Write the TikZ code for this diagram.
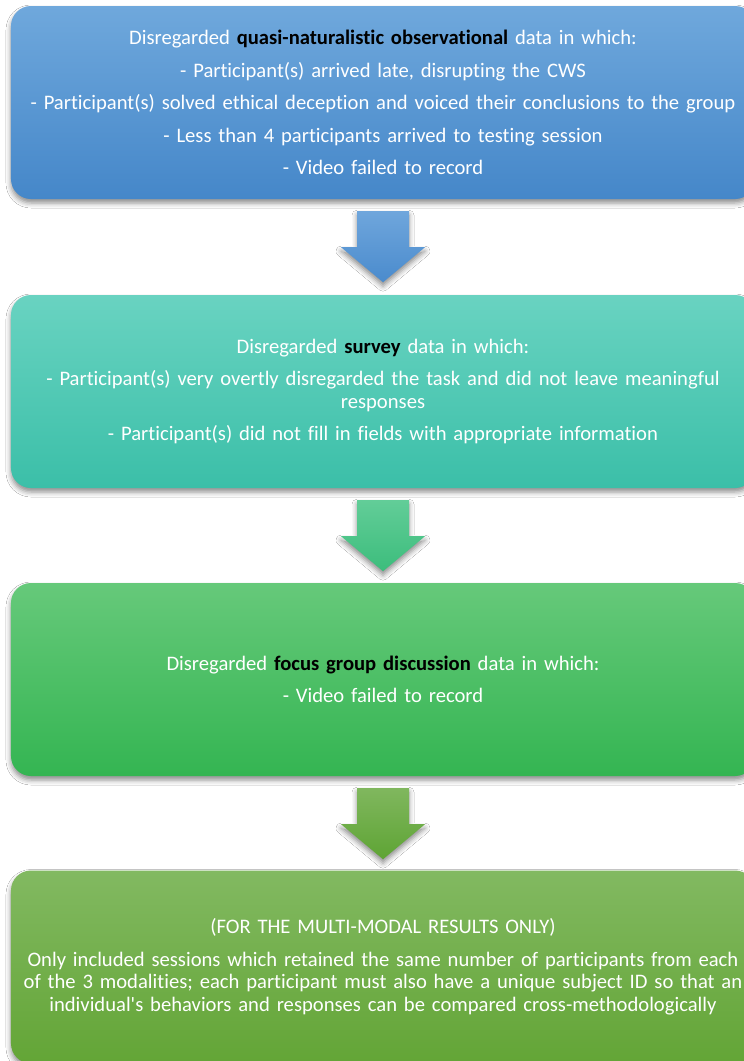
\documentclass[tikz,border=0pt]{standalone}
\usepackage{fontspec}
\setmainfont{Carlito}[Ligatures={TeXOff,CommonOff}]
\usetikzlibrary{shadows.blur,calc}
\definecolor{bAtop}{HTML}{6FA8DC}
\definecolor{bAbot}{HTML}{4587C9}
\definecolor{bBtop}{HTML}{69D3C1}
\definecolor{bBbot}{HTML}{3BBFA8}
\definecolor{bCtop}{HTML}{66C97A}
\definecolor{bCbot}{HTML}{34B552}
\definecolor{bDtop}{HTML}{82B961}
\definecolor{bDbot}{HTML}{63A536}
\definecolor{aAtop}{HTML}{6FA6DC}
\definecolor{aAbot}{HTML}{4A8BCD}
\definecolor{aBtop}{HTML}{62CD98}
\definecolor{aBbot}{HTML}{3CBD7C}
\definecolor{aCtop}{HTML}{80B75E}
\definecolor{aCbot}{HTML}{5EA434}
\newcommand{\hl}[1]{\textbf{\color{black}#1}}
\begin{document}
\begin{tikzpicture}[x=1bp,y=-1bp,
  stepbox/.style 2 args={rounded corners=20bp, inner sep=0pt,
    minimum width=744bp, minimum height=193bp, text width=725bp,
    align=center, text=white, font=\fontsize{20.7}{23}\selectfont,
    top color=#1, bottom color=#2, draw=none,
    blur shadow={shadow xshift=0bp, shadow yshift=-4bp, shadow blur radius=5bp, shadow opacity=45}},
  pics/downarrow/.style 2 args={code={
    \path[top color=#1, bottom color=#2, draw=none,
      blur shadow={shadow xshift=0bp, shadow yshift=-4bp, shadow blur radius=5bp, shadow opacity=45}]
      (-26,0) -- (26,0) -- (26,36) -- (42,36) -- (0,71) -- (-42,36) -- (-26,36) -- cycle;}}
]
\useasboundingbox (0,0) rectangle (744,1061);
\fill[white] (0,0) rectangle (744,1061);

\node[stepbox={bAtop}{bAbot}] (b1) at (383,102.5) {%
Disregarded \hl{quasi-naturalistic observational} data in which:\\[9.5bp]
- Participant(s) arrived late, disrupting the CWS\\[9.5bp]
- Participant(s) solved ethical deception and voiced their conclusions to the group\\[9.5bp]
- Less than 4 participants arrived to testing session\\[9.5bp]
- Video failed to record};

\node[stepbox={bBtop}{bBbot}] (b2) at (383,391.5) {%
Disregarded \hl{survey} data in which:\\[9.5bp]
- Participant(s) very overtly disregarded the task and did not leave meaningful\\
responses\\[9.5bp]
- Participant(s) did not fill in fields with appropriate information};

\node[stepbox={bCtop}{bCbot}] (b3) at (383,679.5) {%
Disregarded \hl{focus group discussion} data in which:\\[9.5bp]
- Video failed to record};

\node[stepbox={bDtop}{bDbot}] (b4) at (383,967) {%
(FOR THE MULTI-MODAL RESULTS ONLY)\\[9.5bp]
Only included sessions which retained the same number of participants from each\\
of the 3 modalities; each participant must also have a unique subject ID so that an\\
individual's behaviors and responses can be compared cross-methodologically};

\pic at ($(b1.south)+(0,12)$) {downarrow={aAtop}{aAbot}};
\pic at ($(b2.south)+(0,12)$) {downarrow={aBtop}{aBbot}};
\pic at ($(b3.south)+(0,12)$) {downarrow={aCtop}{aCbot}};
\end{tikzpicture}
\end{document}
